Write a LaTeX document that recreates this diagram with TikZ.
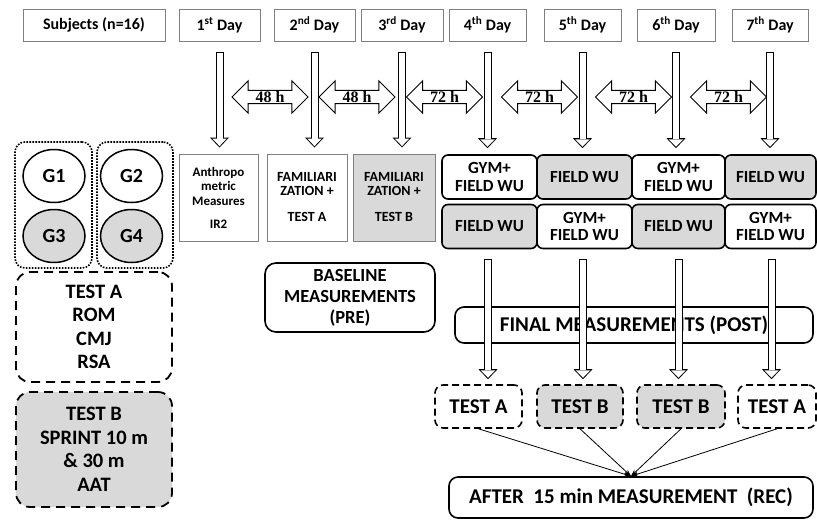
\documentclass[tikz,border=0pt]{standalone}
\usepackage{fontspec}
\setmainfont{Carlito}
\newfontfamily\hoursfont{Liberation Serif}
\usetikzlibrary{arrows.meta,shapes.geometric,shapes.arrows,calc}
\definecolor{wugray}{HTML}{D9D9D9}
\definecolor{framegray}{HTML}{7F7F7F}

\begin{document}
\begin{tikzpicture}[
    x=1pt, y=-1pt,
    daybox/.style={rectangle, draw=framegray, line width=1pt, minimum width=#1,
                   minimum height=32pt, inner sep=0pt,
                   font=\fontsize{16}{18}\selectfont\bfseries},
    daybox/.default=81pt,
    visit/.style={rectangle, draw=framegray, line width=1pt, minimum width=#1,
                  minimum height=87pt, inner sep=0pt, align=center},
    visit/.default=80pt,
    wu/.style={rectangle, draw, rounded corners=6pt, line width=1.6pt, fill=#1,
               minimum width=95pt, minimum height=44pt, inner sep=0pt, align=center,
               font=\fontsize{17}{17.5}\selectfont\bfseries},
    wu/.default=white,
    group/.style={rectangle, draw, rounded corners=10pt, line width=1.6pt,
                  dash pattern=on 1.6pt off 1.4pt, minimum width=77pt, minimum height=126pt},
    grp/.style={ellipse, draw, line width=1.5pt, fill=#1, minimum width=62pt,
                minimum height=53pt, inner sep=0pt, font=\fontsize{20}{22}\selectfont\bfseries},
    grp/.default=white,
    testlist/.style={rectangle, draw, rounded corners=14pt, line width=1.8pt, fill=#1,
                     dash pattern=on 9pt off 6pt, minimum width=156pt, inner sep=0pt,
                     align=center, font=\fontsize{20.5}{23.5}\selectfont\bfseries},
    testlist/.default=white,
    testbox/.style={rectangle, draw, rounded corners=8pt, line width=1.6pt, fill=#1,
                    dash pattern=on 7pt off 4pt, minimum height=43pt, inner sep=0pt,
                    font=\fontsize{21}{22}\selectfont\bfseries},
    testbox/.default=white,
    meas/.style={rectangle, draw, rounded corners=9pt, line width=1.6pt, fill=white,
                 inner sep=0pt, align=center, font=\fontsize{21}{22}\selectfont\bfseries},
    gap/.style={double arrow, draw, fill=white, line width=1pt, double arrow head extend=9.5pt,
                minimum height=76pt, inner xsep=2pt, inner ysep=0.5pt,
                font=\hoursfont\fontsize{16}{16}\selectfont\bfseries},
    hollow/.style={line width=8pt, -{Triangle[length=10pt, width=19pt, line width=0pt]},
                   postaction={draw=white, line width=6pt, shorten <=1pt, shorten >=1.45pt,
                               -{Triangle[length=7.5pt, width=14.5pt, line width=0pt]}}},
    conv/.style={-{Stealth[length=7pt, width=5pt]}, line width=0.8pt}
]
\useasboundingbox (0,0) rectangle (817,520);

% days
\node[daybox=142pt] (subj) at (94,25) {Subjects (n=16)};
\node[daybox] (d1) at (219.5,25) {1\textsuperscript{st} Day};
\node[daybox] (d2) at (314.5,25) {2\textsuperscript{nd} Day};
\node[daybox=82pt] (d3) at (402,25) {3\textsuperscript{rd} Day};
\node[daybox=77pt] (d4) at (487.5,25) {4\textsuperscript{th} Day};
\node[daybox=77pt] (d5) at (582.5,25) {5\textsuperscript{th} Day};
\node[daybox=78pt] (d6) at (676,25) {6\textsuperscript{th} Day};
\node[daybox=76pt] (d7) at (770,25) {7\textsuperscript{th} Day};

% rest between days
\node[gap] (h12) at (270,97) {48 h};
\node[gap] (h23) at (357,97) {48 h};
\node[gap] (h34) at (444.5,97) {72 h};
\node[gap] (h45) at (539.5,97) {72 h};
\node[gap] (h56) at (633.5,97) {72 h};
\node[gap] (h67) at (728.5,97) {72 h};

% first visits
\node[visit=79pt, font=\fontsize{13}{14.5}\selectfont\bfseries] (anthro) at (218.5,197.5)
    {Anthropo\\metric\\Measures\\[8.5pt]IR2};
\node[visit, font=\fontsize{14}{13.5}\selectfont\bfseries] (fam1) at (307,197.5)
    {FAMILIARI\\ZATION +\\[13pt]TEST A};
\node[visit=82pt, fill=wugray, font=\fontsize{14}{13.5}\selectfont\bfseries] (fam2) at (394,197.5)
    {FAMILIARI\\ZATION +\\[13pt]TEST B};

% warm-up sessions
\node[wu] (wu4a) at (489.5,177) {GYM+\\FIELD WU};
\node[wu=wugray] (wu5a) at (584.5,177) {FIELD WU};
\node[wu, minimum width=93pt] (wu6a) at (678.5,177) {GYM+\\FIELD WU};
\node[wu=wugray, minimum width=91pt] (wu7a) at (770.5,177) {FIELD WU};
\node[wu=wugray] (wu4b) at (489.5,226.5) {FIELD WU};
\node[wu] (wu5b) at (584.5,226.5) {GYM+\\FIELD WU};
\node[wu=wugray, minimum width=93pt] (wu6b) at (678.5,226.5) {FIELD WU};
\node[wu, minimum width=91pt] (wu7b) at (770.5,226.5) {GYM+\\FIELD WU};

% groups
\node[group] (grp13) at (53.5,205) {};
\node[group, minimum width=76pt] (grp24) at (135,205) {};
\node[grp] (g1) at (54,176) {G1};
\node[grp=wugray] (g3) at (54,236) {G3};
\node[grp] (g2) at (131.5,176) {G2};
\node[grp=wugray] (g4) at (131.5,236) {G4};

% test batteries
\node[testlist, minimum height=110pt] (testa) at (94,327) {TEST A\\ROM\\CMJ\\RSA};
\node[testlist=wugray, minimum height=115pt] (testb) at (94,449.5)
    {TEST B\\SPRINT 10 m\\\& 30 m\\AAT};

% measurements
\node[meas, minimum width=170pt, minimum height=69pt, rounded corners=11pt,
      font=\fontsize{18.5}{21}\selectfont\bfseries] (base) at (350,297.5)
    {BASELINE\\MEASUREMENTS\\(PRE)};
\node[meas, minimum width=358pt, minimum height=36pt] (final) at (634,325)
    {FINAL MEASUREMENTS (POST)};
\node[testbox, minimum width=87pt] (ta1) at (478.5,406.5) {TEST A};
\node[testbox=wugray, minimum width=86pt] (tb1) at (580,406.5) {TEST B};
\node[testbox=wugray, minimum width=88pt] (tb2) at (681,406.5) {TEST B};
\node[testbox, minimum width=78pt] (ta2) at (777,406.5) {TEST A};
\node[meas, minimum width=364pt, minimum height=41pt] (after) at (631,497.5)
    {AFTER~ 15 min MEASUREMENT~ (REC)};

% day arrows
\draw[hollow] ($(d1.south)+(0,10)$) -- ($(d1.south |- anthro.north)+(0,-6)$);
\draw[hollow] ($(d2.south)+(0,10)$) -- ($(d2.south |- fam1.north)+(0,-6)$);
\draw[hollow] ($(d3.south)+(0,10)$) -- ($(d3.south |- fam2.north)+(0,-6)$);
\draw[hollow] ($(d4.south)+(0,10)$) -- ($(d4.south |- wu4a.north)+(0,-6)$);
\draw[hollow] ($(d5.south)+(0,10)$) -- ($(d5.south |- wu5a.north)+(0,-6)$);
\draw[hollow] ($(d6.south)+(0,10)$) -- ($(d6.south |- wu6a.north)+(0,-6)$);
\draw[hollow] ($(d7.south)+(0,10)$) -- ($(d7.south |- wu7a.north)+(0,-6)$);

% post arrows over the final box
\draw[hollow] ($(wu4b.south)+(-1.5,10)$) -- ($(wu4b.south |- ta1.north)+(-1.5,-5)$);
\draw[hollow] ($(wu5b.south)+(-1.5,10)$) -- ($(wu5b.south |- tb1.north)+(-1.5,-5)$);
\draw[hollow] ($(wu6b.south)+(0,10)$) -- ($(wu6b.south |- tb2.north)+(0,-5)$);
\draw[hollow] ($(wu7b.south)+(1,10)$) -- ($(wu7b.south |- ta2.north)+(1,-5)$);

\draw[conv] (ta1.south) -- (after.north);
\draw[conv] (tb1.south) -- (after.north);
\draw[conv] (tb2.south) -- (after.north);
\draw[conv] (ta2.south) -- (after.north);
\end{tikzpicture}
\end{document}
